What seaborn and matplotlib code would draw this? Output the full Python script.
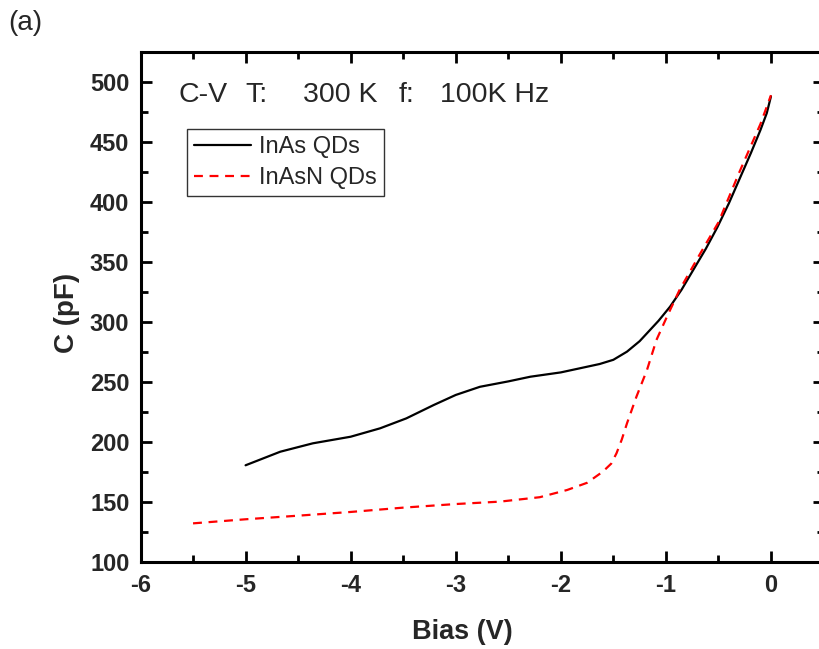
import matplotlib
matplotlib.use("Agg")
import matplotlib.pyplot as plt
import seaborn as sns
import pandas as pd
from matplotlib.ticker import MultipleLocator

# ---- data ----
inas_bias = [-5.0, -4.67, -4.36, -4.0, -3.72, -3.47, -3.21, -3.0, -2.77, -2.5, -2.29,
             -2.0, -1.82, -1.63, -1.5, -1.37, -1.25, -1.18, -1.07, -0.96, -0.85,
             -0.74, -0.62, -0.51, -0.4, -0.29, -0.19, -0.10, -0.04, 0.0]
inas_cap = [180.6, 191.9, 198.9, 204.4, 211.4, 219.7, 230.8, 239.2, 246.0, 250.5, 254.4,
            258.0, 261.4, 265.0, 268.5, 275.3, 284.0, 290.6, 301.0, 312.8, 327.0,
            343.3, 361.0, 379.0, 399.0, 421.0, 441.0, 460.0, 474.0, 488.0]

inasn_bias = [-5.5, -5.0, -4.5, -4.0, -3.5, -3.0, -2.58, -2.2, -1.94, -1.75, -1.6,
              -1.52, -1.47, -1.42, -1.37, -1.28, -1.18, -1.09, -0.99, -0.87, -0.68,
              -0.5, -0.3, -0.1, 0.0]
inasn_cap = [132.2, 135.6, 138.6, 141.7, 145.3, 148.3, 150.3, 154.0, 160.0, 166.0,
             175.3, 182.0, 190.6, 202.0, 215.6, 237.8, 260.0, 285.0, 304.4, 326.7,
             356.0, 383.0, 425.0, 465.0, 489.0]

series_names = ["InAs QDs", "InAsN QDs"]
x_ticks = [-6, -5, -4, -3, -2, -1, 0]
y_ticks = [100, 150, 200, 250, 300, 350, 400, 450, 500]

df = pd.concat([
    pd.DataFrame({"Bias": inas_bias, "C": inas_cap, "Sample": series_names[0]}),
    pd.DataFrame({"Bias": inasn_bias, "C": inasn_cap, "Sample": series_names[1]}),
], ignore_index=True)

sns.set_style("ticks")
plt.rcParams["font.family"] = ["Liberation Sans", "DejaVu Sans"]

W, H = 819, 649
fig = plt.figure(figsize=(W / 100, H / 100), dpi=100)
ax = fig.add_axes([140.5 / W, 87 / H, 683 / W, 510 / H])

sns.lineplot(data=df, x="Bias", y="C", hue="Sample", style="Sample",
             palette={series_names[0]: "black", series_names[1]: "#ff0000"},
             dashes={series_names[0]: "", series_names[1]: (4, 3)},
             sort=False, estimator=None, linewidth=1.6, ax=ax)

ax.set_xlim(-6, 0.5)
ax.set_ylim(100, 525)
ax.set_xticks(x_ticks)
ax.set_xticklabels([str(t) for t in x_ticks])
ax.set_yticks(y_ticks)
ax.xaxis.set_minor_locator(MultipleLocator(0.5))
ax.yaxis.set_minor_locator(MultipleLocator(25))

for s in ax.spines.values():
    s.set_visible(True)
    s.set_linewidth(2.2)
    s.set_color("black")

ax.tick_params(which="both", direction="in", top=True, right=True,
               color="black", width=2.0)
ax.tick_params(which="major", length=8, labelsize=17)
ax.tick_params(axis="y", which="major", pad=8)
ax.tick_params(axis="x", which="major", pad=9)
ax.tick_params(which="minor", length=5)
for lab in ax.get_xticklabels() + ax.get_yticklabels():
    lab.set_fontweight("bold")

ax.set_xlabel("Bias (V)", fontsize=19.5, fontweight="bold")
ax.xaxis.set_label_coords((462 - 140.5) / 683, (562 - 619) / 510)
ax.set_ylabel("C (pF)", fontsize=20, fontweight="bold")
ax.yaxis.set_label_coords((80 - 140.5) / 683, (562 - 313) / 510)

# annotation pieces placed at their positions in the reference
for px, txt in [(178, "C-V"), (245, "T:"), (303, "300 K"), (399, "f:"), (440, "100K Hz")]:
    fig.text(px / W, 1 - 102 / H, txt, fontsize=20.5, ha="left", va="baseline")

leg = ax.legend(loc="upper left", bbox_to_anchor=((187 - 140.5) / 683, (562 - 129) / 510),
                borderaxespad=0, fontsize=17, frameon=True, fancybox=False,
                handlelength=2.4, handletextpad=0.35, borderpad=0.3,
                labelspacing=0.38, title=None)
leg.get_frame().set_edgecolor("black")
leg.get_frame().set_linewidth(1.0)

fig.text(8 / W, 1 - 23 / H, "(a)", fontsize=20, ha="left", va="center")

fig.savefig("out.png", dpi=100)
